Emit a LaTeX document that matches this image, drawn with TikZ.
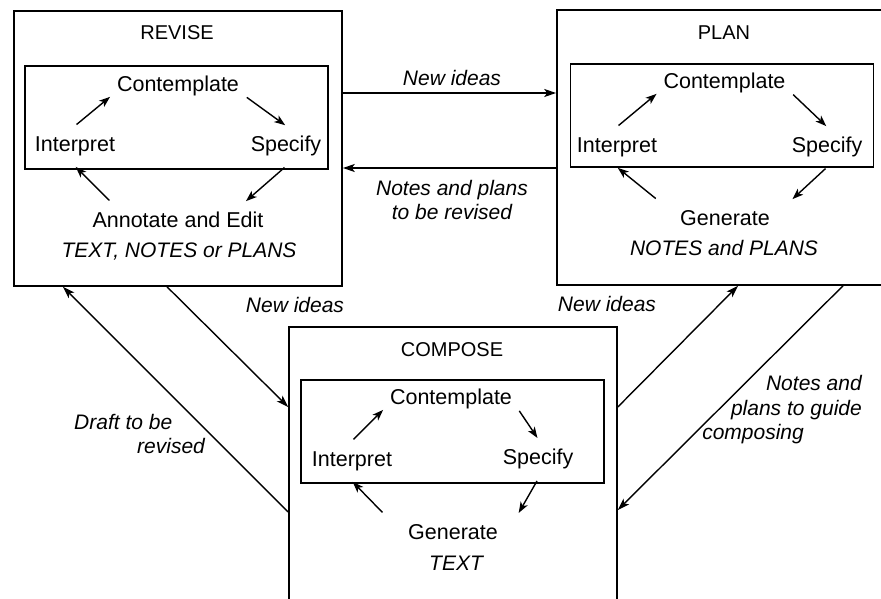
\documentclass[tikz,border=0pt]{standalone}
\usepackage{fontspec}
\setmainfont{Liberation Sans}
\usetikzlibrary{arrows.meta}
\begin{document}
\begin{tikzpicture}[x=1pt,y=-1pt,
  txt/.style={inner sep=0pt, font=\fontsize{21.5}{25}\selectfont},
  lbl/.style={inner sep=0pt, align=center, font=\fontsize{21}{24.5}\selectfont\itshape},
  ttl/.style={inner sep=0pt, font=\fontsize{20}{24}\selectfont},
  outerbox/.style={draw, line width=1.6pt, inner sep=0pt, minimum height=275},
  innerbox/.style={draw, line width=1.5pt, inner sep=0pt, minimum width=303, minimum height=103},
  topnode/.style={txt, minimum width=134, minimum height=18},
  sidenode/.style={txt, minimum height=40},
  botnode/.style={txt, minimum width=134, minimum height=36},
  cyc/.style={-{Stealth[length=11pt,width=8pt,inset=3pt]}, line width=1.4pt, shorten <=2pt, shorten >=1pt},
  conn/.style={-{Stealth[length=12pt,width=8pt,inset=3pt]}, line width=1.4pt}]
  \useasboundingbox (0,0) rectangle (881,599);
  \clip (0,0) rectangle (881,599);

  \node[outerbox, minimum width=328] (rev) at (178,148.5) {};
  \node[outerbox, minimum width=330] (plan) at (722,147.5) {};
  \node[outerbox, minimum width=328] (comp) at (453,464.5) {};

  \node[ttl] (revT) at (177,33) {REVISE};
  \node[innerbox] (revIn) at (176.5,117.5) {};
  \node[topnode] (revC) at (178,86) {Contemplate};
  \node[sidenode] (revI) at (75,146) {Interpret};
  \node[sidenode] (revS) at (286,146) {Specify};
  \node[botnode] (revA) at (178,220) {Annotate and Edit};
  \node[txt, font=\fontsize{21}{25}\selectfont\itshape] (revO) at (179,252) {TEXT, NOTES or PLANS};
  \draw[cyc] (revI.north) -- (revC.south west);
  \draw[cyc] (revC.south east) -- (revS.north);
  \draw[cyc] (revS.south) -- (revA.north -| revC.south east);
  \draw[cyc] (revA.north -| revC.south west) -- (revI.south);

  \node[ttl] (planT) at (724,33) {PLAN};
  \node[innerbox] (planIn) at (722,115.5) {};
  \node[topnode] (planC) at (724.5,83) {Contemplate};
  \node[sidenode] (planI) at (617,147) {Interpret};
  \node[sidenode] (planS) at (827,147) {Specify};
  \node[botnode] (planG) at (725,218) {Generate};
  \node[txt, font=\fontsize{21}{25}\selectfont\itshape] (planO) at (724,248) {NOTES and PLANS};
  \draw[cyc] (planI.north) -- (planC.south west);
  \draw[cyc] (planC.south east) -- (planS.north);
  \draw[cyc] (planS.south) -- (planG.north -| planC.south east);
  \draw[cyc] (planG.north -| planC.south west) -- (planI.south);

  \node[ttl] (compT) at (452,350) {COMPOSE};
  \node[innerbox] (compIn) at (452.5,431.5) {};
  \node[topnode] (compC) at (451,399) {Contemplate};
  \node[sidenode] (compI) at (352,461) {Interpret};
  \node[sidenode] (compS) at (538,459) {Specify};
  \node[botnode] (compG) at (453,532) {Generate};
  \node[txt, font=\fontsize{21}{25}\selectfont\itshape] (compO) at (456,563) {TEXT};
  \draw[cyc] (compI.north) -- (compC.south west);
  \draw[cyc] (compC.south east) -- (compS.north);
  \draw[cyc] (compS.south) -- (compG.north -| compC.south east);
  \draw[cyc] (compG.north -| compC.south west) -- (compI.south);

  \draw[conn] (rev.east |- 0,93) -- (plan.west |- 0,93);
  \node[lbl] (l1) at (452,78) {New ideas};
  \draw[conn] (plan.west |- 0,168) -- (rev.east |- 0,168);
  \node[lbl] (l2) at (452,200) {Notes and plans\\to be revised};
  \draw[conn] (rev.south -| 167,0) -- (comp.west |- 0,407);
  \node[lbl] (l3) at (295,305) {New ideas};
  \draw[conn] (comp.west |- 0,512) -- (rev.south -| 63,0);
  \node[lbl, align=left, anchor=west] (l4) at (74,434) {Draft to be\\\hspace*{63pt}revised};
  \draw[conn] (comp.east |- 0,407) -- (plan.south -| 738,0);
  \node[lbl] (l5) at (607,304) {New ideas};
  \draw[conn] (plan.south -| 843,0) -- (comp.east |- 0,510);
  \node[lbl, align=right, anchor=east] (l6) at (862,410) {Notes and\\plans to guide\\composing\hspace*{58pt}};
\end{tikzpicture}
\end{document}
